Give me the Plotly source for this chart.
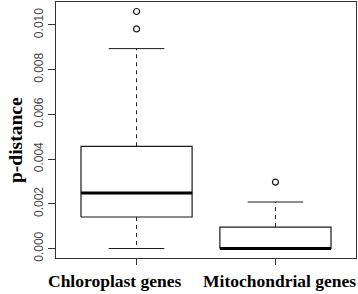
import plotly.graph_objects as go

categories = ["Chloroplast genes", "Mitochondrial genes"]
lower_whisker = [0.0, 0.0]
q1 = [0.00141, 0.0]
median = [0.00248, 0.0]
q3 = [0.00457, 0.00096]
upper_whisker = [0.00894, 0.00208]
outliers = [[0.00982, 0.0106], [0.00297]]
yticks = [0.0, 0.002, 0.004, 0.006, 0.008, 0.010]

fig = go.Figure()
line_col = "#1a1a1a"
hw = 0.4   # box half width (R boxwex 0.8)
cw = 0.2   # staple half width

for i, cat in enumerate(categories):
    x = i + 1
    fig.add_trace(go.Scatter(x=[x, x, None, x, x], y=[q3[i], upper_whisker[i], None, q1[i], lower_whisker[i]],
                             mode="lines", line=dict(color=line_col, width=1, dash="4px,4px"),
                             hoverinfo="skip", showlegend=False))
    fig.add_trace(go.Scatter(x=[x - cw, x + cw, None, x - cw, x + cw],
                             y=[upper_whisker[i], upper_whisker[i], None, lower_whisker[i], lower_whisker[i]],
                             mode="lines", line=dict(color=line_col, width=1),
                             hoverinfo="skip", showlegend=False))
    fig.add_trace(go.Scatter(x=[x - hw, x + hw, x + hw, x - hw, x - hw],
                             y=[q1[i], q1[i], q3[i], q3[i], q1[i]],
                             mode="lines", line=dict(color=line_col, width=1.2),
                             fill="toself", fillcolor="white",
                             hoverinfo="skip", showlegend=False))
    fig.add_trace(go.Scatter(x=[x - hw, x + hw], y=[median[i], median[i]],
                             mode="lines", line=dict(color="black", width=3),
                             hoverinfo="skip", showlegend=False))
    fig.add_trace(go.Scatter(x=[x] * len(outliers[i]), y=outliers[i], mode="markers",
                             marker=dict(symbol="circle-open", size=6, color=line_col,
                                         line=dict(width=1.2, color=line_col)),
                             hoverinfo="skip", showlegend=False))

W, H = 358, 294
L, R, T, B = 56, 2, 2, 36
PW, PH = W - L - R, H - T - B

def px(xp):
    return (xp - L) / PW

def py(yp):
    return (H - B - yp) / PH

label_centers = [114.5, 279.5]
anns = [dict(text="<b>p-distance</b>", x=px(15), y=py(140), xref="paper", yref="paper",
             showarrow=False, textangle=-90, xanchor="center", yanchor="middle",
             font=dict(family="Liberation Serif", size=19.5, color="black"))]
for cat, cx in zip(categories, label_centers):
    anns.append(dict(text="<b>" + cat + "</b>", x=px(cx), y=py(281), xref="paper", yref="paper",
                     showarrow=False, xanchor="center", yanchor="middle",
                     font=dict(family="Liberation Serif", size=17.5, color="black")))

fig.update_layout(
    width=W, height=H,
    margin=dict(l=L, r=R, t=T, b=B),
    plot_bgcolor="white", paper_bgcolor="white",
    xaxis=dict(range=[0.42, 2.58], tickvals=[1, 2], ticktext=["", ""],
               showgrid=False, zeroline=False, showline=True, mirror=True,
               linecolor="#333", linewidth=1, ticks="outside", ticklen=6,
               tickcolor="#333", tickwidth=1),
    yaxis=dict(range=[-0.000424, 0.011024], tickvals=yticks, tickformat=".3f",
               tickangle=-90, showgrid=False, zeroline=False, showline=True, mirror=True,
               linecolor="#333", linewidth=1, ticks="outside", ticklen=7,
               tickcolor="#333", tickwidth=1,
               tickfont=dict(family="Liberation Sans", size=12, color="#444")),
    annotations=anns,
)

fig.write_html("out.html", config={"displayModeBar": False},
               post_script="document.body.style.margin='0';document.body.style.overflow='hidden';")
